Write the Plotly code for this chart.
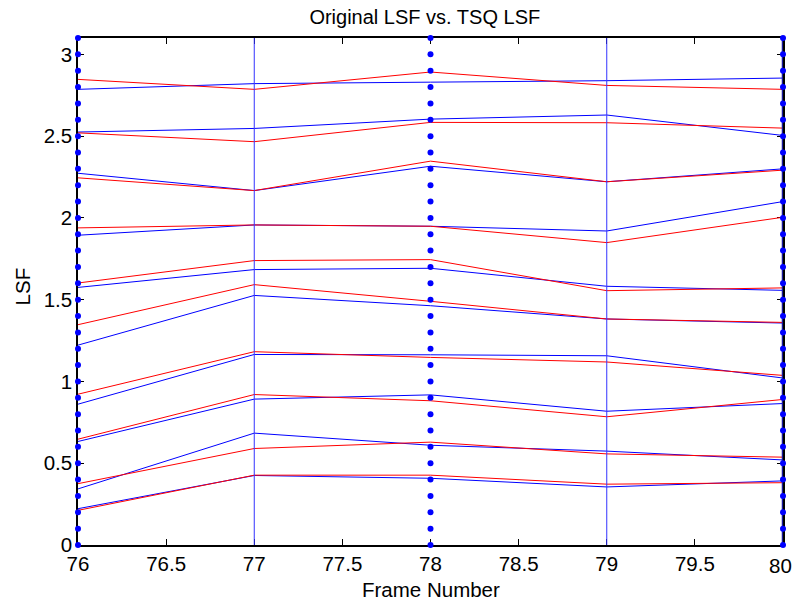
import plotly.graph_objects as go
import numpy as np

# Frame numbers on the x axis
frames = [76, 77, 78, 79, 80]

# Original LSF coefficients (10 per frame), one list per coefficient order
orig_lsf = [
    [0.222, 0.425, 0.408, 0.355, 0.392],
    [0.343, 0.684, 0.610, 0.574, 0.520],
    [0.633, 0.892, 0.918, 0.818, 0.865],
    [0.861, 1.165, 1.163, 1.157, 1.021],
    [1.222, 1.526, 1.463, 1.382, 1.357],
    [1.575, 1.684, 1.692, 1.582, 1.557],
    [1.894, 1.957, 1.949, 1.920, 2.100],
    [2.273, 2.167, 2.316, 2.221, 2.300],
    [2.525, 2.547, 2.604, 2.629, 2.504],
    [2.786, 2.821, 2.830, 2.839, 2.855],
]

# TSQ-quantised LSF coefficients
tsq_lsf = [
    [0.212, 0.427, 0.427, 0.372, 0.381],
    [0.375, 0.590, 0.629, 0.557, 0.537],
    [0.647, 0.920, 0.882, 0.784, 0.890],
    [0.922, 1.182, 1.147, 1.119, 1.037],
    [1.347, 1.592, 1.490, 1.382, 1.361],
    [1.602, 1.739, 1.745, 1.555, 1.572],
    [1.939, 1.957, 1.949, 1.849, 2.004],
    [2.245, 2.167, 2.347, 2.221, 2.292],
    [2.520, 2.466, 2.584, 2.582, 2.549],
    [2.847, 2.786, 2.892, 2.810, 2.786],
]

# Frame boundary markers
solid_frames = [77, 79]
edge_frame = 80
dotted_frames = [76, 78, 80]
y_max = 3.1
dot_step = 0.1

x_ticks = [76, 76.5, 77, 77.5, 78, 78.5, 79, 79.5, 80]
y_ticks = [0, 0.5, 1, 1.5, 2, 2.5, 3]

FONT = "Liberation Sans, Arial, sans-serif"
TXT = 20.5

fig = go.Figure()

for row in orig_lsf:
    fig.add_trace(go.Scatter(x=frames, y=row, mode="lines",
                             line=dict(color="#0000ff", width=1),
                             showlegend=False, hoverinfo="skip"))
for row in tsq_lsf:
    fig.add_trace(go.Scatter(x=frames, y=row, mode="lines",
                             line=dict(color="#ff0000", width=1),
                             showlegend=False, hoverinfo="skip"))

for f in solid_frames:
    fig.add_trace(go.Scatter(x=[f, f], y=[0, y_max], mode="lines",
                             line=dict(color="#3333ff", width=1),
                             showlegend=False, hoverinfo="skip"))
fig.add_trace(go.Scatter(x=[edge_frame, edge_frame], y=[0, y_max], mode="lines",
                         line=dict(color="#1a1a9e", width=2.5),
                         showlegend=False, hoverinfo="skip", cliponaxis=False))

dot_levels = np.round(np.arange(0, y_max + dot_step / 2, dot_step), 1)
for f in dotted_frames:
    fig.add_trace(go.Scatter(x=[f] * len(dot_levels), y=dot_levels, mode="markers",
                             marker=dict(color="#0000ff", size=6),
                             showlegend=False, hoverinfo="skip", cliponaxis=False))

axis_common = dict(
    showgrid=False, zeroline=False, showline=True, linecolor="black", linewidth=1.5,
    mirror="ticks", ticks="inside", ticklen=6, tickcolor="black", tickwidth=1,
    tickfont=dict(family=FONT, size=TXT, color="black"), layer="below traces",
)

# The last x label sits against the page edge, so it is drawn as an annotation
x_text = [f"{v:g}" for v in x_ticks]
last_label = x_text[-1]
x_text[-1] = ""

fig.update_layout(
    width=794, height=601,
    margin=dict(l=78, r=11, t=38, b=56, autoexpand=False),
    paper_bgcolor="white", plot_bgcolor="white",
    title=dict(text="Original LSF vs. TSQ LSF", x=0.535, xanchor="center",
               y=1 - 17 / 601, yanchor="middle", yref="container",
               font=dict(family=FONT, size=20, color="black")),
    xaxis=dict(range=[76, 80], tickvals=x_ticks, ticktext=x_text, **axis_common),
    yaxis=dict(range=[0, y_max], tickvals=y_ticks,
               ticktext=[f"{v:g}" for v in y_ticks], **axis_common),
    annotations=[
        dict(text=last_label, x=x_ticks[-1], xref="x", y=0, yref="paper",
             xanchor="right", xshift=11, yanchor="middle", yshift=-20,
             showarrow=False, font=dict(family=FONT, size=TXT, color="black")),
        dict(text="Frame Number", x=0.5, y=-44 / 507, xref="paper", yref="paper",
             xanchor="center", yanchor="middle", showarrow=False,
             font=dict(family=FONT, size=TXT, color="black")),
        dict(text="LSF", x=-56 / 705, y=0.51, xref="paper", yref="paper",
             xanchor="center", yanchor="middle", showarrow=False, textangle=-90,
             font=dict(family=FONT, size=TXT, color="black")),
    ],
)

fig.write_html("out.html")
